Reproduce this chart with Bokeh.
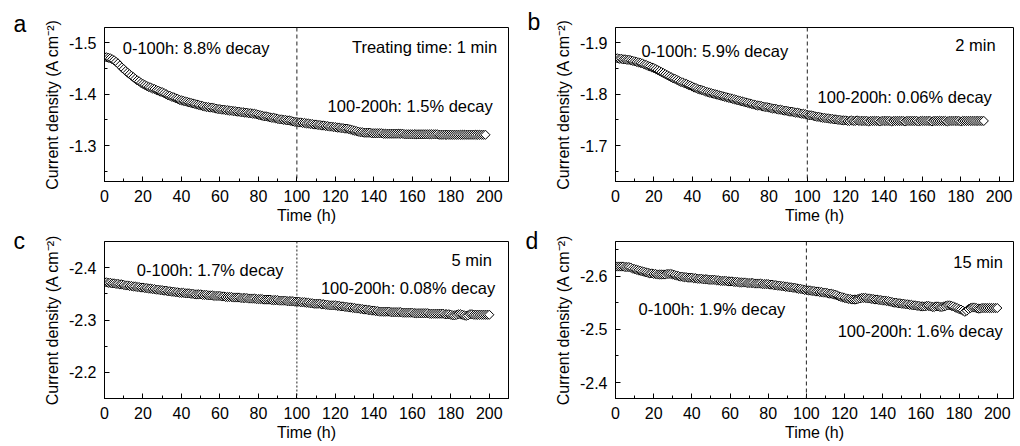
import math
from bokeh.plotting import figure
from bokeh.layouts import gridplot
from bokeh.models import Range1d, FixedTicker, Label, Span, PrintfTickFormatter
from bokeh.embed import file_html
from bokeh.resources import INLINE

FONT = "Liberation Sans"

# ---------------- data (one reading per hour) ----------------
x_major = [0, 20, 40, 60, 80, 100, 120, 140, 160, 180, 200]
x_minor = [0, 10, 20, 30, 40, 50, 60, 70, 80, 90, 100, 110, 120, 130, 140, 150, 160, 170, 180, 190, 200, 210]

t_a = list(range(0, 199))
j_a = [-1.472, -1.472, -1.471, -1.470, -1.468, -1.466, -1.463, -1.460, -1.456, -1.452,
       -1.449, -1.445, -1.442, -1.439, -1.436, -1.433, -1.430, -1.427, -1.425, -1.422,
       -1.420, -1.418, -1.416, -1.414, -1.413, -1.411, -1.410, -1.408, -1.407, -1.405,
       -1.404, -1.402, -1.400, -1.398, -1.397, -1.395, -1.394, -1.392, -1.391, -1.389,
       -1.388, -1.387, -1.386, -1.385, -1.384, -1.383, -1.382, -1.381, -1.380, -1.379,
       -1.378, -1.377, -1.376, -1.375, -1.375, -1.374, -1.374, -1.373, -1.372, -1.371,
       -1.371, -1.370, -1.370, -1.369, -1.369, -1.368, -1.368, -1.367, -1.367, -1.366,
       -1.366, -1.365, -1.365, -1.364, -1.364, -1.363, -1.363, -1.362, -1.362, -1.361,
       -1.360, -1.359, -1.358, -1.357, -1.357, -1.356, -1.355, -1.354, -1.354, -1.353,
       -1.352, -1.351, -1.351, -1.350, -1.350, -1.349, -1.349, -1.348, -1.347, -1.346,
       -1.346, -1.345, -1.345, -1.344, -1.344, -1.343, -1.343, -1.342, -1.342, -1.341,
       -1.341, -1.340, -1.340, -1.339, -1.339, -1.338, -1.338, -1.337, -1.337, -1.336,
       -1.336, -1.335, -1.335, -1.334, -1.334, -1.333, -1.333, -1.332, -1.331, -1.330,
       -1.329, -1.328, -1.327, -1.326, -1.326, -1.325, -1.325, -1.325, -1.325, -1.324,
       -1.324, -1.324, -1.324, -1.324, -1.324, -1.323, -1.323, -1.323, -1.323, -1.323,
       -1.323, -1.323, -1.323, -1.323, -1.323, -1.323, -1.322, -1.322, -1.322, -1.322,
       -1.322, -1.322, -1.322, -1.322, -1.322, -1.322, -1.322, -1.322, -1.322, -1.322,
       -1.322, -1.322, -1.322, -1.322, -1.321, -1.321, -1.321, -1.321, -1.321, -1.321,
       -1.321, -1.321, -1.321, -1.321, -1.321, -1.321, -1.321, -1.321, -1.321, -1.321,
       -1.321, -1.321, -1.321, -1.321, -1.321, -1.321, -1.321, -1.321, -1.321]

t_b = list(range(0, 193))
j_b = [-1.870, -1.870, -1.869, -1.869, -1.868, -1.868, -1.867, -1.867, -1.866, -1.865,
       -1.864, -1.863, -1.862, -1.861, -1.860, -1.858, -1.857, -1.855, -1.854, -1.852,
       -1.851, -1.849, -1.847, -1.845, -1.843, -1.841, -1.839, -1.837, -1.835, -1.833,
       -1.831, -1.830, -1.828, -1.826, -1.824, -1.823, -1.821, -1.820, -1.818, -1.817,
       -1.815, -1.813, -1.812, -1.810, -1.809, -1.808, -1.807, -1.805, -1.804, -1.803,
       -1.802, -1.801, -1.800, -1.799, -1.798, -1.797, -1.796, -1.795, -1.794, -1.793,
       -1.792, -1.791, -1.790, -1.789, -1.788, -1.787, -1.786, -1.785, -1.784, -1.783,
       -1.782, -1.781, -1.780, -1.779, -1.778, -1.778, -1.777, -1.776, -1.775, -1.775,
       -1.774, -1.773, -1.772, -1.772, -1.771, -1.770, -1.770, -1.769, -1.768, -1.768,
       -1.767, -1.766, -1.766, -1.765, -1.764, -1.764, -1.763, -1.762, -1.762, -1.761,
       -1.760, -1.759, -1.759, -1.758, -1.757, -1.756, -1.756, -1.755, -1.754, -1.754,
       -1.753, -1.753, -1.752, -1.752, -1.751, -1.751, -1.750, -1.750, -1.749, -1.749,
       -1.749, -1.748, -1.748, -1.749, -1.748, -1.748, -1.749, -1.748, -1.748, -1.748,
       -1.748, -1.748, -1.747, -1.748, -1.748, -1.748, -1.748, -1.748, -1.747, -1.748,
       -1.748, -1.748, -1.748, -1.748, -1.747, -1.748, -1.748, -1.748, -1.748, -1.748,
       -1.748, -1.747, -1.748, -1.748, -1.748, -1.748, -1.748, -1.748, -1.747, -1.748,
       -1.748, -1.748, -1.748, -1.748, -1.748, -1.747, -1.748, -1.748, -1.748, -1.748,
       -1.748, -1.748, -1.748, -1.747, -1.748, -1.748, -1.748, -1.748, -1.748, -1.748,
       -1.747, -1.748, -1.748, -1.748, -1.748, -1.748, -1.748, -1.748, -1.748, -1.748,
       -1.748, -1.748, -1.748]

t_c = list(range(0, 201))
j_c = [-2.372, -2.372, -2.371, -2.371, -2.370, -2.370, -2.369, -2.369, -2.368, -2.368,
       -2.367, -2.366, -2.366, -2.365, -2.365, -2.364, -2.364, -2.363, -2.363, -2.362,
       -2.362, -2.361, -2.361, -2.360, -2.360, -2.359, -2.359, -2.358, -2.358, -2.357,
       -2.357, -2.356, -2.356, -2.355, -2.355, -2.354, -2.354, -2.353, -2.353, -2.352,
       -2.352, -2.352, -2.351, -2.351, -2.351, -2.350, -2.350, -2.349, -2.349, -2.349,
       -2.349, -2.348, -2.348, -2.348, -2.347, -2.347, -2.347, -2.346, -2.346, -2.346,
       -2.346, -2.345, -2.345, -2.344, -2.344, -2.344, -2.344, -2.343, -2.343, -2.343,
       -2.343, -2.342, -2.342, -2.342, -2.342, -2.341, -2.341, -2.341, -2.341, -2.340,
       -2.340, -2.340, -2.340, -2.339, -2.339, -2.339, -2.339, -2.338, -2.338, -2.338,
       -2.338, -2.337, -2.337, -2.337, -2.337, -2.336, -2.336, -2.336, -2.336, -2.335,
       -2.335, -2.335, -2.334, -2.334, -2.334, -2.333, -2.333, -2.332, -2.332, -2.331,
       -2.331, -2.331, -2.331, -2.330, -2.330, -2.329, -2.329, -2.328, -2.328, -2.328,
       -2.328, -2.327, -2.327, -2.326, -2.326, -2.325, -2.325, -2.324, -2.324, -2.323,
       -2.323, -2.322, -2.322, -2.321, -2.321, -2.320, -2.320, -2.319, -2.319, -2.318,
       -2.318, -2.317, -2.317, -2.316, -2.316, -2.316, -2.316, -2.316, -2.316, -2.315,
       -2.315, -2.315, -2.315, -2.315, -2.315, -2.314, -2.314, -2.314, -2.314, -2.314,
       -2.314, -2.313, -2.313, -2.313, -2.313, -2.313, -2.313, -2.313, -2.313, -2.312,
       -2.312, -2.312, -2.312, -2.312, -2.312, -2.312, -2.312, -2.311, -2.311, -2.311,
       -2.310, -2.309, -2.309, -2.310, -2.311, -2.311, -2.310, -2.309, -2.308, -2.309,
       -2.311, -2.311, -2.310, -2.310, -2.310, -2.310, -2.310, -2.310, -2.310, -2.310,
       -2.310]

t_d = list(range(0, 201))
j_d = [-2.618, -2.618, -2.618, -2.618, -2.618, -2.617, -2.617, -2.617, -2.616, -2.614,
       -2.613, -2.612, -2.611, -2.610, -2.609, -2.608, -2.607, -2.606, -2.605, -2.605,
       -2.604, -2.604, -2.603, -2.603, -2.603, -2.603, -2.603, -2.604, -2.604, -2.604,
       -2.603, -2.602, -2.601, -2.600, -2.599, -2.599, -2.598, -2.598, -2.597, -2.597,
       -2.597, -2.596, -2.596, -2.595, -2.595, -2.595, -2.594, -2.594, -2.594, -2.593,
       -2.593, -2.593, -2.593, -2.592, -2.592, -2.591, -2.591, -2.591, -2.591, -2.590,
       -2.590, -2.590, -2.589, -2.589, -2.589, -2.588, -2.588, -2.588, -2.588, -2.587,
       -2.587, -2.587, -2.587, -2.586, -2.586, -2.586, -2.586, -2.585, -2.585, -2.585,
       -2.585, -2.584, -2.584, -2.583, -2.583, -2.582, -2.582, -2.581, -2.581, -2.580,
       -2.580, -2.579, -2.579, -2.578, -2.578, -2.577, -2.576, -2.576, -2.575, -2.574,
       -2.574, -2.573, -2.573, -2.572, -2.572, -2.571, -2.571, -2.570, -2.570, -2.569,
       -2.569, -2.568, -2.567, -2.567, -2.566, -2.565, -2.564, -2.562, -2.561, -2.560,
       -2.559, -2.558, -2.557, -2.557, -2.556, -2.556, -2.556, -2.557, -2.558, -2.559,
       -2.559, -2.559, -2.558, -2.558, -2.557, -2.557, -2.556, -2.556, -2.555, -2.555,
       -2.554, -2.554, -2.553, -2.553, -2.552, -2.551, -2.550, -2.550, -2.549, -2.549,
       -2.548, -2.548, -2.547, -2.547, -2.546, -2.546, -2.545, -2.545, -2.544, -2.544,
       -2.543, -2.543, -2.543, -2.544, -2.544, -2.543, -2.542, -2.542, -2.543, -2.543,
       -2.542, -2.542, -2.543, -2.544, -2.545, -2.545, -2.544, -2.543, -2.541, -2.540,
       -2.538, -2.537, -2.535, -2.533, -2.535, -2.538, -2.540, -2.541, -2.541, -2.540,
       -2.539, -2.539, -2.540, -2.540, -2.540, -2.540, -2.540, -2.540, -2.540, -2.540,
       -2.540]

panels = [
    dict(letter="a", t=t_a, j=j_a, xend=210, ybot=-1.23, ytop=-1.53,
         yticks=[-1.5, -1.4, -1.3], yminor=[-1.5, -1.45, -1.4, -1.35, -1.3, -1.25],
         texts=[("0-100h: 8.8% decay", 9.5, -1.491, "left"),
                ("Treating time: 1 min", 204.1, -1.492, "right"),
                ("100-200h: 1.5% decay", 201.8, -1.378, "right")],
         dash="4 3"),
    dict(letter="b", t=t_b, j=j_b, xend=207.5, ybot=-1.63, ytop=-1.93,
         yticks=[-1.9, -1.8, -1.7], yminor=[-1.9, -1.85, -1.8, -1.75, -1.7, -1.65],
         texts=[("0-100h: 5.9% decay", 13.5, -1.884, "left"),
                ("2 min", 198.2, -1.8966, "right"),
                ("100-200h: 0.06% decay", 196.2, -1.794, "right")],
         dash="4 3"),
    dict(letter="c", t=t_c, j=j_c, xend=210, ybot=-2.15, ytop=-2.45,
         yticks=[-2.4, -2.3, -2.2], yminor=[-2.4, -2.35, -2.3, -2.25, -2.2],
         texts=[("0-100h: 1.7% decay", 16.8, -2.396, "left"),
                ("5 min", 201.4, -2.415, "right"),
                ("100-200h: 0.08% decay", 203.1, -2.361, "right")],
         dash="2 2"),
    dict(letter="d", t=t_d, j=j_d, xend=208.5, ybot=-2.37, ytop=-2.665,
         yticks=[-2.6, -2.5, -2.4], yminor=[-2.65, -2.6, -2.55, -2.5, -2.45, -2.4],
         texts=[("15 min", 202.9, -2.627, "right"),
                ("0-100h: 1.9% decay", 12.1, -2.538, "left"),
                ("100-200h: 1.6% decay", 202.9, -2.497, "right")],
         dash="4 3"),
]

# layout geometry (canvas pixels)
geoms = [
    dict(W=510, H=226, bl=103, br=2, bt=27, bb=41, off=-91, so=-19),
    dict(W=510, H=226, bl=104, br=7, bt=27, bb=41, off=-88, so=-14),
    dict(W=510, H=220, bl=104, br=2, bt=15, bb=48, off=-91, so=-24),
    dict(W=510, H=220, bl=105, br=4, bt=15, bb=48, off=-90, so=-24),
]


def build(pn, g):
    p = figure(width=g["W"], height=g["H"], output_backend="svg", toolbar_location=None,
               x_range=Range1d(0, pn["xend"]), y_range=Range1d(pn["ybot"], pn["ytop"]),
               min_border_left=g["bl"], min_border_right=g["br"],
               min_border_top=g["bt"], min_border_bottom=g["bb"],
               title=pn["letter"])
    p.title.align = "left"
    p.title.vertical_align = "bottom"
    p.title.offset = g["off"]
    p.title.standoff = g["so"]
    p.title.text_font = FONT
    p.title.text_font_size = "23px"
    p.title.text_font_style = "normal"
    p.title.text_color = "black"

    p.grid.visible = False
    p.outline_line_color = "black"
    p.outline_line_width = 1
    p.background_fill_color = "white"
    p.border_fill_color = "white"

    p.xaxis.ticker = FixedTicker(ticks=x_major, minor_ticks=x_minor)
    p.yaxis.ticker = FixedTicker(ticks=pn["yticks"], minor_ticks=pn["yminor"])
    p.yaxis.formatter = PrintfTickFormatter(format="%.1f")
    p.xaxis.axis_label = "Time (h)"
    p.yaxis.axis_label = "Current density (A cm\u207b\u00b2)"
    for ax in (p.xaxis[0], p.yaxis[0]):
        ax.axis_line_color = "black"
        ax.major_tick_line_color = "black"
        ax.minor_tick_line_color = "black"
        ax.major_tick_in = 5
        ax.major_tick_out = 0
        ax.minor_tick_in = 3
        ax.minor_tick_out = 0
        ax.major_label_text_font = FONT
        ax.major_label_text_font_size = "16px"
        ax.major_label_text_color = "black"
        ax.axis_label_text_font = FONT
        ax.axis_label_text_font_size = "16px"
        ax.axis_label_text_font_style = "normal"
        ax.axis_label_text_color = "black"
    p.xaxis.major_label_standoff = 8
    p.xaxis.axis_label_standoff = 2
    p.yaxis.major_label_standoff = 8
    p.yaxis.axis_label_standoff = 5

    p.add_layout(Span(location=100, dimension="height", line_color="#222222",
                      line_width=1, line_dash=pn["dash"]))

    p.scatter(pn["t"], pn["j"], marker="square", size=6.5, angle=math.pi / 4,
              fill_color="white", line_color="black", line_width=1)

    for txt, x, y, al in pn["texts"]:
        p.add_layout(Label(x=x, y=y, text=txt, text_align=al, text_baseline="middle",
                           text_font=FONT, text_font_size="16.5px", text_color="black"))
    return p


figs = [build(pn, g) for pn, g in zip(panels, geoms)]
layout = gridplot([[figs[0], figs[1]], [figs[2], figs[3]]], toolbar_location=None)

open("out.html", "w").write(file_html(layout, INLINE))
